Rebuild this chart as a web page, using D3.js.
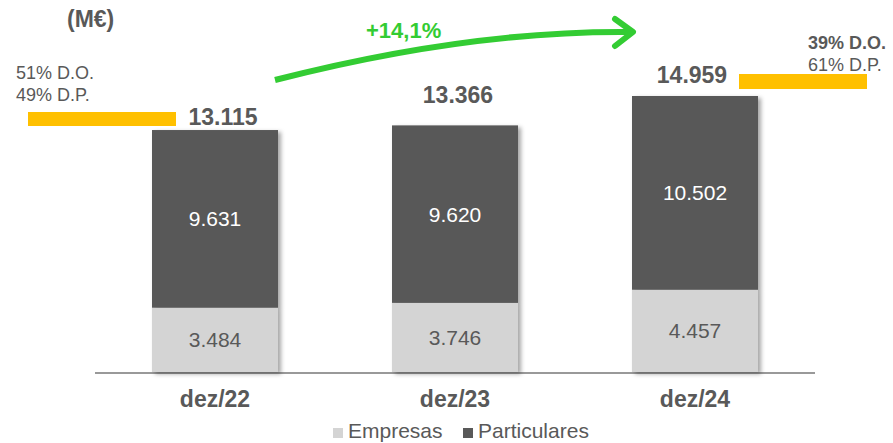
<!DOCTYPE html>
<html>
<head>
<meta charset="utf-8">
<script src="https://cdn.jsdelivr.net/npm/d3@7"></script>
<style>
  body { margin: 0; background: #fff; }
  svg { display: block; font-family: "Liberation Sans", Arial, sans-serif; }
</style>
</head>
<body>
<svg id="chart" width="893" height="443"></svg>
<script>
"use strict";

// data
const categories = ["dez/22", "dez/23", "dez/24"];
const empresas = [3484, 3746, 4457];
const particulares = [9631, 9620, 10502];
const totals = [13115, 13366, 14959];
const seriesNames = ["Empresas", "Particulares"];
const growthLabel = "+14,1%";
const unitLabel = "(M€)";
const mixStart = ["51% D.O.", "49% D.P."];
const mixEnd = ["39% D.O.", "61% D.P."];

// total labels were placed by hand in the original, so nudge each one
const totalNudge = [{dx: 8, dy: 5}, {dx: 3, dy: 22}, {dx: -3, dy: 13}];

const ptFormat = d3.formatLocale({decimal: ",", thousands: ".", grouping: [3], currency: ["", "€"]}).format(",d");

const svg = d3.select("#chart"),
    grey = "#595959",
    light = "#d4d4d4",
    gold = "#ffc000",
    green = "#33cc33",
    baseY = 372;

const x = d3.scaleBand()
    .domain(categories)
    .range([95, 815])
    .paddingInner(0.475)
    .paddingOuter(0.2375);

const y = d3.scaleLinear()
    .domain([0, d3.max(totals)])
    .range([baseY, 96]);

const defs = svg.append("defs");
defs.append("filter")
    .attr("id", "shadow")
    .attr("x", "-10%").attr("y", "-10%")
    .attr("width", "130%").attr("height", "130%")
  .append("feDropShadow")
    .attr("dx", 3).attr("dy", 2)
    .attr("stdDeviation", 2)
    .attr("flood-color", "#000")
    .attr("flood-opacity", 0.35);

const rows = categories.map((c, i) => ({
    cat: c, Empresas: empresas[i], Particulares: particulares[i], total: totals[i]
}));
const stacked = d3.stack().keys(seriesNames)(rows);
const colour = d3.scaleOrdinal().domain(seriesNames).range([light, grey]);
const labelColour = d3.scaleOrdinal().domain(seriesNames).range([grey, "#fff"]);

// axis line
svg.append("line")
    .attr("x1", x.range()[0]).attr("x2", x.range()[1])
    .attr("y1", baseY + 1).attr("y2", baseY + 1)
    .attr("stroke", "#999")
    .attr("stroke-width", 2);

// bars, one shadowed group per category
const barGroups = svg.selectAll(".bar")
    .data(rows)
    .enter().append("g")
    .attr("class", "bar")
    .attr("filter", "url(#shadow)");

barGroups.each(function (row, i) {
    const g = d3.select(this);
    stacked.forEach(layer => {
        const d = layer[i];
        g.append("rect")
            .attr("x", x(row.cat))
            .attr("y", y(d[1]))
            .attr("width", x.bandwidth())
            .attr("height", y(d[0]) - y(d[1]))
            .attr("fill", colour(layer.key));
    });
});

// segment labels
stacked.forEach(layer => {
    svg.selectAll(null)
        .data(layer)
        .enter().append("text")
        .attr("x", d => x(d.data.cat) + x.bandwidth() / 2)
        .attr("y", d => (y(d[0]) + y(d[1])) / 2)
        .attr("dy", "0.36em")
        .attr("text-anchor", "middle")
        .attr("font-size", 21)
        .attr("fill", labelColour(layer.key))
        .text(d => ptFormat(d[1] - d[0]));
});

// totals
svg.selectAll(".total")
    .data(rows)
    .enter().append("text")
    .attr("class", "total")
    .attr("x", (d, i) => x(d.cat) + x.bandwidth() / 2 + totalNudge[i].dx)
    .attr("y", (d, i) => y(d.total) - totalNudge[i].dy)
    .attr("text-anchor", "middle")
    .attr("font-size", 23)
    .attr("font-weight", "bold")
    .attr("fill", grey)
    .text(d => ptFormat(d.total));

// category labels
svg.append("g")
    .attr("transform", `translate(0,${baseY + 1})`)
    .call(d3.axisBottom(x).tickSize(0).tickPadding(18))
    .call(g => g.select(".domain").remove())
    .call(g => g.selectAll("text")
        .attr("font-family", "Liberation Sans, Arial, sans-serif")
        .attr("font-size", 23)
        .attr("font-weight", "bold")
        .attr("fill", grey));

// unit
svg.append("text")
    .attr("x", 67).attr("y", 27)
    .attr("font-size", 23)
    .attr("font-weight", "bold")
    .attr("fill", grey)
    .text(unitLabel);

// D.O. / D.P. mix annotations
svg.append("rect")
    .attr("x", 28).attr("y", 112)
    .attr("width", 148).attr("height", 14)
    .attr("fill", gold);
svg.append("rect")
    .attr("x", 739).attr("y", 74)
    .attr("width", 128).attr("height", 15)
    .attr("fill", gold);

svg.selectAll(".mixStart")
    .data(mixStart)
    .enter().append("text")
    .attr("x", 16)
    .attr("y", (d, i) => 79 + i * 22)
    .attr("font-size", 18)
    .attr("fill", grey)
    .text(d => d);

svg.selectAll(".mixEnd")
    .data(mixEnd)
    .enter().append("text")
    .attr("x", 808)
    .attr("y", (d, i) => 49 + i * 22)
    .attr("font-size", 18)
    .attr("font-weight", (d, i) => i === 0 ? "bold" : "normal")
    .attr("fill", grey)
    .text(d => d);

// growth arrow
const arrow = d3.path();
arrow.moveTo(275, 80);
arrow.quadraticCurveTo(470, 30, 633, 32);
svg.append("path")
    .attr("d", arrow.toString())
    .attr("fill", "none")
    .attr("stroke", green)
    .attr("stroke-width", 6);
svg.append("path")
    .attr("d", "M615,19 L633,32 L615,46")
    .attr("fill", "none")
    .attr("stroke", green)
    .attr("stroke-width", 6)
    .attr("stroke-linecap", "round")
    .attr("stroke-linejoin", "round");

svg.append("text")
    .attr("x", 366).attr("y", 38)
    .attr("font-size", 22)
    .attr("font-weight", "bold")
    .attr("fill", green)
    .text(growthLabel);

// legend
const legend = svg.append("g").attr("font-size", 21).attr("fill", grey);
const legendX = [333, 463];
seriesNames.forEach((name, i) => {
    legend.append("rect")
        .attr("x", legendX[i]).attr("y", 428)
        .attr("width", 10).attr("height", 10)
        .attr("fill", colour(name));
    legend.append("text")
        .attr("x", legendX[i] + 15).attr("y", 438)
        .text(name);
});
</script>
</body>
</html>
